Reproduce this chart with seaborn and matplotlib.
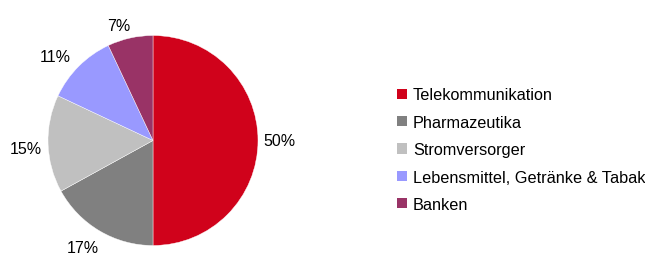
import matplotlib
matplotlib.use("Agg")
import numpy as np
import matplotlib.pyplot as plt
import matplotlib.patches as mpatches
import seaborn as sns

categories = ["Telekommunikation", "Pharmazeutika", "Stromversorger",
              "Lebensmittel, Getränke & Tabak", "Banken"]
values = [50, 17, 15, 11, 7]
colors = ["#D0021B", "#808080", "#C0C0C0", "#9999FF", "#993366"]
label_dist = [1.2, 1.2, 1.21, 1.24, 1.17]
label_angle_offset = [1.5, -3.5, 0.7, 3.4, 3.4]

sns.set_theme(style="white")
plt.rcParams['font.family'] = ['Liberation Sans', 'DejaVu Sans']
plt.rcParams['text.color'] = 'black'

fig = plt.figure(figsize=(6.45, 2.55), dpi=100)
cx, cy, r = 153, 255 - 141.5, 105
ax = fig.add_axes([(cx - r) / 645, (cy - r) / 255, 2 * r / 645, 2 * r / 255])
wedges, texts, autotexts = ax.pie(values, colors=colors, startangle=90, counterclock=False,
                                  autopct=lambda p: f"{p:.0f}%", pctdistance=1.2,
                                  wedgeprops=dict(linewidth=0.3, edgecolor="white"),
                                  textprops=dict(fontsize=11.5, color="black"), radius=1)
for w, t, d, off in zip(wedges, autotexts, label_dist, label_angle_offset):
    ang = np.deg2rad((w.theta1 + w.theta2) / 2 + off)
    t.set_position((d * np.cos(ang), d * np.sin(ang) - 0.028))
ax.set_xlim(-1, 1)
ax.set_ylim(-1, 1)
ax.set_aspect("equal")
ax.axis("off")

handles = [mpatches.Patch(facecolor=c, edgecolor="none") for c in colors]
leg = fig.legend(handles, categories, loc="upper left", bbox_to_anchor=(397 / 645, 1 - 88.5 / 255),
                 frameon=False, fontsize=11.7, handlelength=0.62, handleheight=0.62,
                 handletextpad=0.37, labelspacing=0.76, borderpad=0, borderaxespad=0)
for t in leg.get_texts():
    t.set_color("black")

fig.savefig("out.png", dpi=100)
